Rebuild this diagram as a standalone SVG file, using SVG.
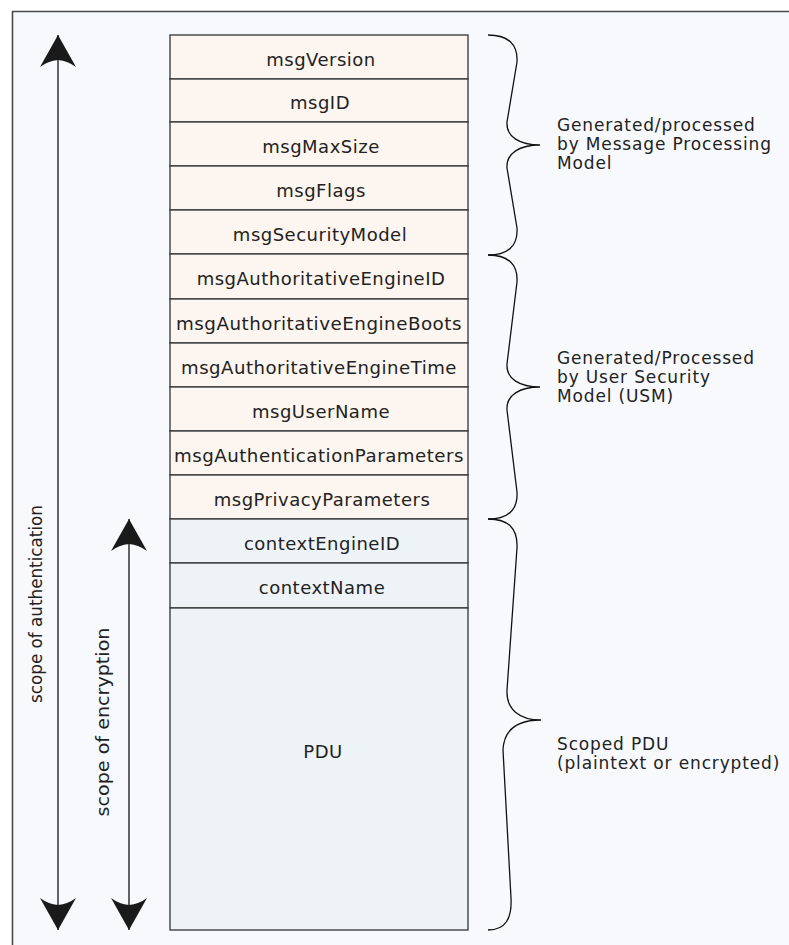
<svg xmlns="http://www.w3.org/2000/svg" width="789" height="945" viewBox="0 0 789 945">
<style>
  .bg { fill: #F7F9FD; }
  .frame { fill: none; stroke: #4a4a4a; stroke-width: 1.6; }
  .hdr { fill: #FDF5EF; stroke: #333; stroke-width: 1.3; }
  .ctx { fill: #EEF3F8; stroke: #333; stroke-width: 1.3; }
  .lbl { font-family: "DejaVu Sans", "Liberation Sans", sans-serif; font-size: 18px; letter-spacing: 0.5px; fill: #222; text-anchor: middle; }
  .note { font-family: "DejaVu Sans", "Liberation Sans", sans-serif; font-size: 17px; letter-spacing: 0.85px; fill: #222; }
  .side { font-family: "DejaVu Sans", "Liberation Sans", sans-serif; font-size: 17.5px; fill: #222; text-anchor: middle; }
  .brace { fill: none; stroke: #111; stroke-width: 1.3; }
  .arrow { fill: none; stroke: #111; stroke-width: 1.3; marker-start: url(#head); marker-end: url(#head); }
</style>
<defs>
  <marker id="head" markerUnits="userSpaceOnUse" markerWidth="40" markerHeight="40" viewBox="-36 -20 40 40" refX="0" refY="0" orient="auto-start-reverse">
    <path d="M0,0 L-32,-18 Q-26,-10 -25,0 Q-26,10 -32,18 Z" fill="#1a1a1a"/>
  </marker>
</defs>
<rect x="0" y="0" width="789" height="945" fill="#ffffff"/>
<rect class="bg" x="12" y="11" width="777" height="934"/>
<path class="frame" d="M12.5,945 L12.5,11.5 L789,11.5"/>

<g id="connectors">
  <line class="arrow" x1="58" y1="930" x2="58" y2="35"/>
  <line class="arrow" x1="129" y1="930" x2="129" y2="519"/>
</g>

<g id="axis-labels">
  <text class="side" x="42" y="604" textLength="198" lengthAdjust="spacingAndGlyphs" transform="rotate(-90 42 604)">scope of authentication</text>
  <text class="side" x="109" y="722" textLength="189" lengthAdjust="spacingAndGlyphs" transform="rotate(-90 109 722)">scope of encryption</text>
</g>

<g id="msgVersion"><rect class="hdr" x="170" y="35" width="298" height="44"/><text class="lbl" x="321" y="65.5">msgVersion</text></g>
<g id="msgID"><rect class="hdr" x="170" y="79" width="298" height="43"/><text class="lbl" x="320" y="109">msgID</text></g>
<g id="msgMaxSize"><rect class="hdr" x="170" y="122" width="298" height="44"/><text class="lbl" x="321" y="152.5">msgMaxSize</text></g>
<g id="msgFlags"><rect class="hdr" x="170" y="166" width="298" height="44"/><text class="lbl" x="321" y="196.5">msgFlags</text></g>
<g id="msgSecurityModel"><rect class="hdr" x="170" y="210" width="298" height="44"/><text class="lbl" x="320" y="240.5">msgSecurityModel</text></g>
<g id="msgAuthoritativeEngineID"><rect class="hdr" x="170" y="254" width="298" height="45"/><text class="lbl" x="321" y="284.5">msgAuthoritativeEngineID</text></g>
<g id="msgAuthoritativeEngineBoots"><rect class="hdr" x="170" y="299" width="298" height="44"/><text class="lbl" x="319" y="329.5" textLength="286" lengthAdjust="spacingAndGlyphs">msgAuthoritativeEngineBoots</text></g>
<g id="msgAuthoritativeEngineTime"><rect class="hdr" x="170" y="343" width="298" height="44"/><text class="lbl" x="319" y="373.5" textLength="276" lengthAdjust="spacingAndGlyphs">msgAuthoritativeEngineTime</text></g>
<g id="msgUserName"><rect class="hdr" x="170" y="387" width="298" height="44"/><text class="lbl" x="321" y="417.5">msgUserName</text></g>
<g id="msgAuthenticationParameters"><rect class="hdr" x="170" y="431" width="298" height="44"/><text class="lbl" x="319" y="461.5" textLength="290" lengthAdjust="spacingAndGlyphs">msgAuthenticationParameters</text></g>
<g id="msgPrivacyParameters"><rect class="hdr" x="170" y="475" width="298" height="44"/><text class="lbl" x="322" y="505.5">msgPrivacyParameters</text></g>
<g id="contextEngineID"><rect class="ctx" x="170" y="519" width="298" height="44"/><text class="lbl" x="322" y="549.5">contextEngineID</text></g>
<g id="contextName"><rect class="ctx" x="170" y="563" width="298" height="45"/><text class="lbl" x="322" y="593.5">contextName</text></g>
<g id="PDU"><rect class="ctx" x="170" y="608" width="298" height="322"/><text class="lbl" x="323" y="758">PDU</text></g>

<g id="brace-mpm">
  <path class="brace" d="M488,35 C508,35 518,44 517,62 L507,122 C506,137 520,145 540,145 C520,145 506,153 507,168 L517,228 C518,246 508,255 488,255"/>
  <text class="note" x="557" y="131">Generated/processed</text>
  <text class="note" x="557" y="150">by Message Processing</text>
  <text class="note" x="557" y="169">Model</text>
</g>
<g id="brace-usm">
  <path class="brace" d="M488,255 C508,255 518,264 517,282 L507,364 C506,379 520,387 540,387 C520,387 506,395 507,410 L517,492 C518,510 508,519 488,519"/>
  <text class="note" x="557" y="364">Generated/Processed</text>
  <text class="note" x="557" y="383">by User Security</text>
  <text class="note" x="557" y="402">Model (USM)</text>
</g>
<g id="brace-scoped">
  <path class="brace" d="M488,519 C508,519 518,528 517,548 L507,690 C506,710 520,720 541,720 C520,720 504,728 503,750 L511,898 C512,918 506,930 488,930"/>
  <text class="note" x="557" y="750">Scoped PDU</text>
  <text class="note" x="557" y="769">(plaintext or encrypted)</text>
</g>
</svg>
